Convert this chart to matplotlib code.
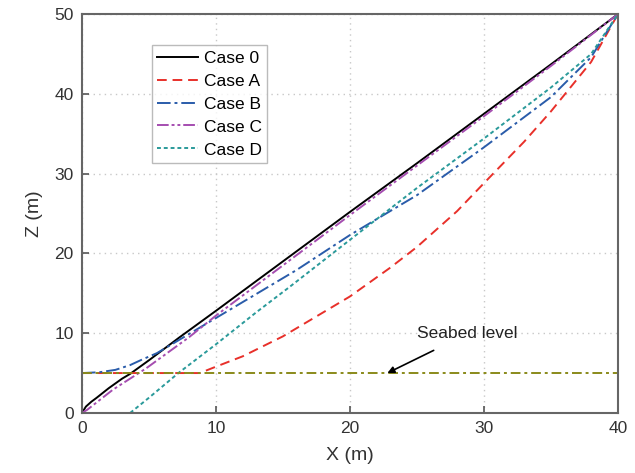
import numpy as np
import matplotlib.pyplot as plt

plt.rcParams['font.family'] = ['Liberation Sans', 'DejaVu Sans']

# curve points (X, Z in metres)
x0 = [0, 0.3, 0.7, 1.1, 2.0, 3.0, 3.6, 5, 7.3, 10, 15, 20, 25, 30, 35, 40]
z0 = [0, 0.8, 1.4, 1.9, 3.1, 4.3, 4.9, 6.6, 9.5, 12.8, 19.0, 25.2, 31.3, 37.5, 43.7, 50]

xa = [0, 4, 8.8, 10, 12, 15, 17, 20, 23, 25, 28, 30, 33, 35, 38, 40]
za = [5, 5, 5, 5.8, 7.1, 9.6, 11.6, 14.6, 18.2, 20.8, 25.3, 28.8, 34.0, 37.8, 44.0, 50]

xb = [0, 1.3, 2.5, 3.6, 4.5, 5.6, 7.3, 10, 12.3, 16, 20, 25, 30, 35, 38, 40]
zb = [5, 5.1, 5.4, 6.0, 6.7, 7.5, 9.2, 11.9, 14.2, 17.9, 22.3, 27.3, 33.3, 39.6, 44.6, 50]

xc = [0, 0.4, 2.3, 4.8, 8, 10, 15, 20, 25, 30, 35, 40]
zc = [0, 0.4, 2.9, 5.6, 9.5, 12.2, 18.5, 24.8, 31.0, 37.2, 43.5, 50]

xd = [3.6, 5, 7.2, 10, 13, 15.5, 20, 25, 30, 35, 38, 40]
zd = [0, 1.9, 5.0, 8.6, 12.6, 15.8, 21.7, 28.2, 34.4, 40.8, 45.0, 50]

seabed_z = 5

fig = plt.figure(figsize=(6.35, 4.73), dpi=100)
ax = fig.add_axes([0.129, 0.127, 0.844, 0.843])

ax.plot(x0, z0, color='black', lw=1.4, label='Case 0')
ax.plot(xa, za, color='#e8302a', lw=1.4, ls=(0, (5, 3)), label='Case A')
ax.plot(xb, zb, color='#2a5caa', lw=1.4, ls=(0, (7, 2, 1.5, 2)), label='Case B')
ax.plot(xc, zc, color='#a54db0', lw=1.4, ls=(0, (6, 1.5, 1.5, 1.5, 1.5, 1.5)), label='Case C')
ax.plot(xd, zd, color='#2a9a9a', lw=1.4, ls=(0, (2, 1.5)), label='Case D')
ax.axhline(seabed_z, color='#8a8a1a', lw=1.4, ls=(0, (5, 2, 1.5, 2)))

ax.annotate('Seabed level', xy=(22.8, 5.0), xytext=(25.0, 9.9),
            fontsize=12.5, color='#222222',
            arrowprops=dict(arrowstyle='-|>', color='black', lw=1.2, mutation_scale=10,
                            shrinkA=10, shrinkB=0),
            va='center', ha='left')

ax.set_xlim(0, 40)
ax.set_ylim(0, 50)
ax.set_xticks([0, 10, 20, 30, 40])
ax.set_yticks([0, 10, 20, 30, 40, 50])
ax.grid(True, color='#c8c8c8', ls=(0, (1, 3)), lw=1)
ax.tick_params(direction='in', length=5, width=1.2, colors='#555555', labelcolor='#333333',
               labelsize=12.5, pad=6)
for s in ax.spines.values():
    s.set_color('#666666')
    s.set_linewidth(1.5)

ax.set_xlabel('X (m)', fontsize=14, color='#333333', labelpad=8)
ax.set_ylabel('Z (m)', fontsize=14, color='#333333', labelpad=8)

leg = ax.legend(loc='upper left', bbox_to_anchor=(0.13, 0.922), fontsize=12.5,
                frameon=True, fancybox=False, handlelength=2.4, handletextpad=0.3,
                borderpad=0.3, labelspacing=0.45, borderaxespad=0)
leg.get_frame().set_edgecolor('#aaaaaa')
leg.get_frame().set_linewidth(1)

fig.savefig('out.png', dpi=100)
